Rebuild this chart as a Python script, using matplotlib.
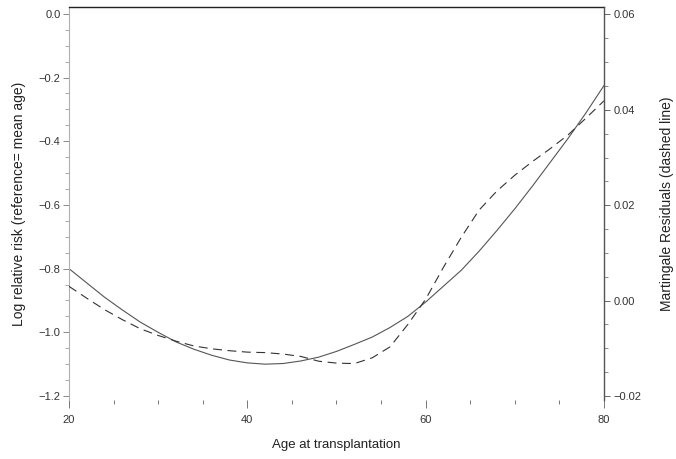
import numpy as np
import matplotlib.pyplot as plt
from matplotlib.ticker import MultipleLocator, FuncFormatter

plt.rcParams['font.family'] = ['Liberation Sans', 'DejaVu Sans']

# smoothed estimates by age at transplantation
age = [20, 22, 24, 26, 28, 30, 32, 34, 36, 38, 40, 42, 44, 46, 48, 50,
       52, 54, 56, 58, 60, 62, 64, 66, 68, 70, 72, 74, 76, 78, 80]

# log relative risk (reference = mean age), solid line
log_rr = [-0.800, -0.845, -0.890, -0.930, -0.968, -1.000, -1.030, -1.053,
          -1.072, -1.087, -1.096, -1.100, -1.098, -1.090, -1.078, -1.060,
          -1.038, -1.015, -0.985, -0.950, -0.905, -0.855, -0.805, -0.745,
          -0.680, -0.612, -0.540, -0.465, -0.390, -0.310, -0.225]

# smoothed martingale residuals, dashed line
mart_resid = [0.0030, 0.0005, -0.0019, -0.0040, -0.0059, -0.0073, -0.0085,
              -0.0095, -0.0101, -0.0105, -0.0108, -0.0109, -0.0112, -0.0117,
              -0.0127, -0.0131, -0.0132, -0.0120, -0.0097, -0.0050, 0.0003,
              0.0070, 0.0133, 0.0190, 0.0230, 0.0263, 0.0292, 0.0319, 0.0348,
              0.0383, 0.0419]

x_ticks = [20, 40, 60, 80]
left_ticks = [0.0, -0.2, -0.4, -0.6, -0.8, -1.0, -1.2]
right_ticks = [0.06, 0.04, 0.02, 0.00, -0.02]


def signed(fmt):
    # proper minus sign for negative tick values
    def f(v, pos):
        s = fmt % v
        if s.startswith('-'):
            s = '\u2212' + s[1:]
        return s
    return FuncFormatter(f)


fig = plt.figure(figsize=(6.76, 4.59), dpi=100)
ax = fig.add_axes([0.102, 0.1285, 0.7915, 0.8555])
ax2 = ax.twinx()

ax.plot(age, log_rr, color='#555555', lw=0.8)
ax2.plot(age, mart_resid, color='#333333', lw=0.8, linestyle=(0, (8, 5)))

ax.set_xlim(20, 80)
ax.set_ylim(-1.2126, 0.0204)
ax2.set_ylim(-0.02084, 0.06149)

ax.set_xticks(x_ticks)
ax.xaxis.set_minor_locator(MultipleLocator(5))
ax.set_yticks(left_ticks)
ax.yaxis.set_minor_locator(MultipleLocator(0.05))
ax.yaxis.set_major_formatter(signed('%.1f'))
ax2.set_yticks(right_ticks)
ax2.yaxis.set_minor_locator(MultipleLocator(0.005))
ax2.yaxis.set_major_formatter(signed('%.2f'))

for a in (ax, ax2):
    a.spines['bottom'].set_visible(False)
    a.spines['top'].set_visible(False)
ax.spines['top'].set_visible(True)
ax.spines['top'].set_color('#222222')
ax.spines['top'].set_linewidth(1.0)
ax.spines['left'].set_color('#b0b0b0')
ax.spines['left'].set_linewidth(0.8)
ax.spines['right'].set_visible(False)
ax2.spines['left'].set_visible(False)
ax2.spines['right'].set_color('#555555')
ax2.spines['right'].set_linewidth(1.0)

ax.tick_params(axis='x', which='major', direction='out', length=6, width=0.7,
               color='#777777', pad=5, labelsize=8, labelcolor='#333333')
ax.tick_params(axis='x', which='minor', direction='out', length=3, width=0.7,
               color='#777777')
ax.tick_params(axis='y', which='major', direction='out', length=4, width=0.7,
               color='#888888', pad=2, labelsize=8, labelcolor='#333333')
ax.tick_params(axis='y', which='minor', direction='out', length=3, width=0.6,
               color='#999999')
ax2.tick_params(axis='y', which='major', direction='out', length=4, width=0.7,
                color='#666666', pad=3, labelsize=8, labelcolor='#333333')
ax2.tick_params(axis='y', which='minor', direction='out', length=3, width=0.6,
                color='#777777')

ax.set_xlabel('Age at transplantation', fontsize=9.5, color='#222222',
              labelpad=10)
ax.set_ylabel('Log relative risk (reference= mean age)', fontsize=10,
              color='#222222', labelpad=9)
ax2.set_ylabel('Martingale Residuals (dashed line)', fontsize=10,
               color='#222222', labelpad=13)

fig.savefig('out.png', dpi=100)
